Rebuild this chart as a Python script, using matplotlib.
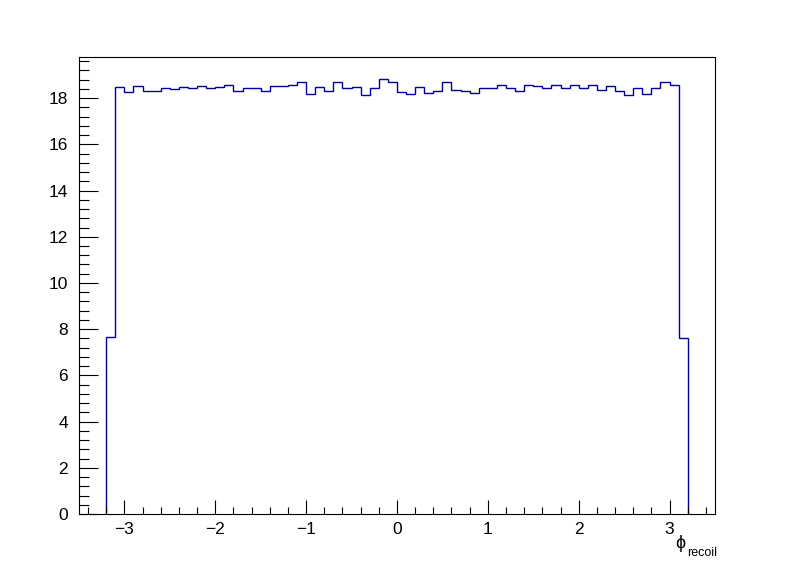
import matplotlib
matplotlib.use("Agg")
import matplotlib.pyplot as plt
from matplotlib.ticker import MultipleLocator
import numpy as np

# histogram: 64 bins between -3.2 and 3.2
bin_lo = -3.2
bin_hi = 3.2
counts = [
    7.65, 18.50, 18.26, 18.54, 18.33, 18.33, 18.46, 18.41,
    18.50, 18.42, 18.54, 18.42, 18.50, 18.59, 18.29, 18.45,
    18.42, 18.29, 18.51, 18.51, 18.59, 18.68, 18.20, 18.50,
    18.33, 18.68, 18.43, 18.50, 18.12, 18.43, 18.85, 18.68,
    18.25, 18.20, 18.50, 18.24, 18.33, 18.68, 18.37, 18.33,
    18.24, 18.42, 18.46, 18.55, 18.46, 18.33, 18.59, 18.51,
    18.46, 18.59, 18.42, 18.59, 18.46, 18.55, 18.37, 18.51,
    18.33, 18.12, 18.42, 18.16, 18.46, 18.68, 18.59, 7.62,
]
x_range = (-3.5, 3.5)
y_range = (0, 19.78)

plt.rcParams["font.family"] = ["Liberation Sans", "DejaVu Sans"]

fig = plt.figure(figsize=(7.96, 5.72), dpi=100)
ax = fig.add_axes([0.0992, 0.1014, 0.7990, 0.7989])

edges = np.linspace(bin_lo, bin_hi, len(counts) + 1)
ax.stairs(counts, edges, color="#000099", linewidth=1.0, baseline=0)

ax.set_xlim(*x_range)
ax.set_ylim(*y_range)

ax.xaxis.set_major_locator(MultipleLocator(1))
ax.xaxis.set_minor_locator(MultipleLocator(0.2))
ax.yaxis.set_major_locator(MultipleLocator(2))
ax.yaxis.set_minor_locator(MultipleLocator(0.4))

ax.tick_params(axis="x", which="major", direction="in", length=10, width=0.8, pad=6, labelsize=12.5)
ax.tick_params(axis="x", which="minor", direction="in", length=5, width=0.8)
ax.tick_params(axis="y", which="major", direction="in", length=14, width=0.8, pad=8, labelsize=12.5)
ax.tick_params(axis="y", which="minor", direction="in", length=7, width=0.8)

for s in ax.spines.values():
    s.set_linewidth(0.8)

fig.text(0.8545, 0.0505, "\u03d5", fontsize=13, ha="center", va="center")
fig.text(0.9015, 0.0325, "recoil", fontsize=9, ha="right", va="center")

fig.savefig("out.png", dpi=100)
